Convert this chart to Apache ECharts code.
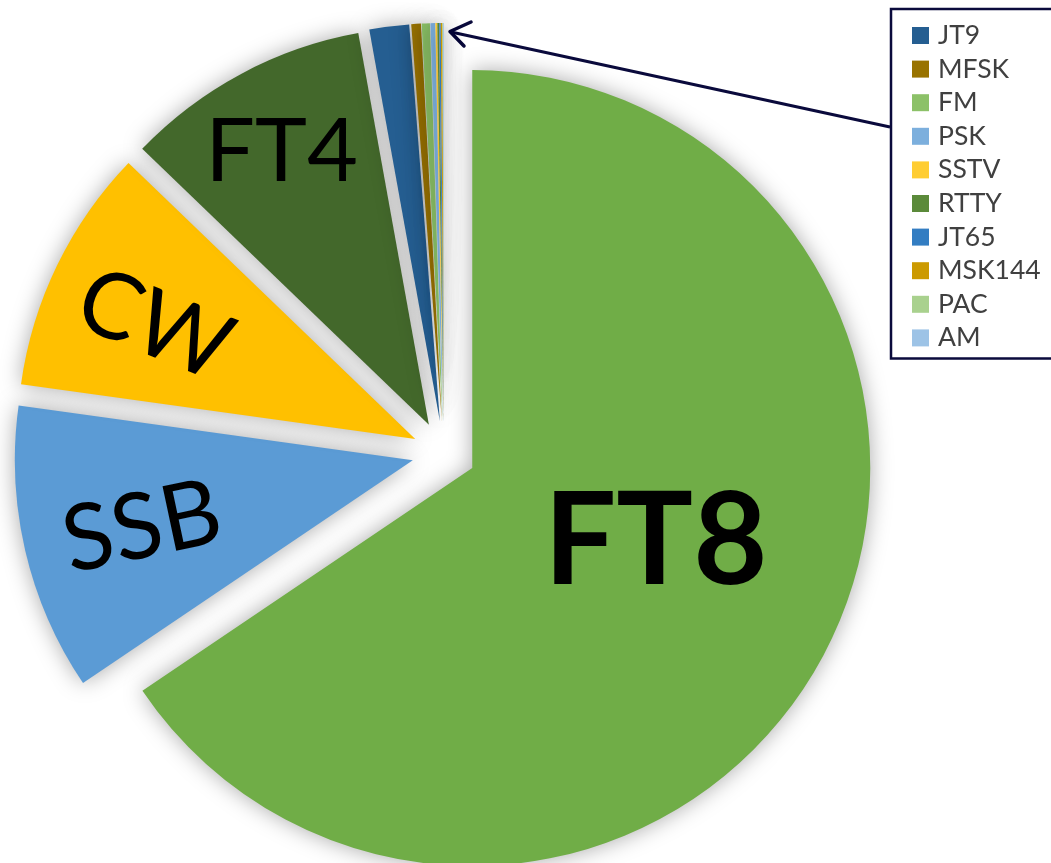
<!DOCTYPE html>
<html>
<head>
<meta charset="utf-8">
<script src="https://cdn.jsdelivr.net/npm/echarts@6/dist/echarts.min.js"></script>
<style>
html,body{margin:0;padding:0;background:#fff;}
#chart{width:1051px;height:863px;}
</style>
</head>
<body>
<div id="chart"></div>
<script>
// Share of contacts by mode (percent)
const modes = ['FT8','SSB','CW','FT4','JT9','MFSK','FM','PSK','SSTV','RTTY','JT65','MSK144','PAC','AM'];
const shares = [65.54, 11.65, 10.0, 9.96, 1.61, 0.39, 0.33, 0.19, 0.07, 0.07, 0.06, 0.06, 0.03, 0.03];
const colors = ['#70AD47','#5B9BD5','#FFC000','#43682B','#255E91','#997300','#8CC168','#7CAFDD','#FFCD33','#5B8A3A','#337DC2','#CC9A00','#A9D18E','#9DC3E6'];
const legendNames = ['JT9','MFSK','FM','PSK','SSTV','RTTY','JT65','MSK144','PAC','AM'];

// label styling for the large slices
const bigLabels = {
  FT8: {fontSize: 128, fontWeight: 'bold', rotate: 0, dx: 5, dy: -20},
  SSB: {fontSize: 92, fontWeight: 'normal', rotate: 12, dx: -77, dy: 6},
  CW:  {fontSize: 92, fontWeight: 'normal', rotate: -22, dx: -83, dy: 6},
  FT4: {fontSize: 88, fontWeight: 'normal', rotate: 0, dx: -52, dy: -94}
};

const chart = echarts.init(document.getElementById('chart'), null, {renderer: 'canvas'});

const data = modes.map((m, i) => {
  const bl = bigLabels[m];
  return {
    name: m,
    value: shares[i],
    selected: true,
    itemStyle: {color: colors[i]},
    label: bl ? {
      show: true, position: 'inside', formatter: '{b}',
      fontSize: bl.fontSize, fontWeight: bl.fontWeight, rotate: bl.rotate,
      color: '#000', fontFamily: 'Lato'
    } : {show: false}
  };
});

chart.setOption({
  animation: false,
  backgroundColor: '#ffffff',
  legend: {
    data: legendNames,
    orient: 'vertical',
    left: 891,
    top: 9,
    padding: [13, 60, 7, 21],
    itemWidth: 17,
    itemHeight: 17,
    itemGap: 6.6,
    icon: 'rect',
    borderColor: '#0a0a3c',
    borderWidth: 2.5,
    selectedMode: false,
    itemStyle: {shadowBlur: 0, borderWidth: 0},
    textStyle: {fontFamily: 'Lato', fontSize: 26.5, color: '#404040', lineHeight: 26, padding: [0, 0, 0, 4]}
  },
  series: [{
    type: 'pie',
    center: [444, 453],
    radius: 398,
    startAngle: 90,
    clockwise: true,
    selectedMode: 'multiple',
    selectedOffset: 32,
    avoidLabelOverlap: false,
    labelLine: {show: false},
    emphasis: {disabled: true},
    itemStyle: {borderWidth: 0, shadowBlur: 22, shadowColor: 'rgba(0,0,0,0.34)'},
    select: {itemStyle: {borderWidth: 0, shadowBlur: 22, shadowColor: 'rgba(0,0,0,0.34)'}},
    labelLayout: function (params) {
      const bl = bigLabels[modes[params.dataIndex]];
      if (!bl) return {};
      return {dx: bl.dx, dy: bl.dy};
    },
    data: data
  }],
  graphic: [{
    type: 'group',
    silent: true,
    children: [
      {type: 'line', shape: {x1: 890, y1: 127, x2: 451, y2: 32}, style: {stroke: '#0a0a3c', lineWidth: 3}},
      {type: 'polyline', shape: {points: [[471, 22], [450, 31.5], [464, 46]]}, style: {stroke: '#0a0a3c', lineWidth: 3.5, fill: null, lineCap: 'round', lineJoin: 'round'}}
    ]
  }]
});
</script>
</body>
</html>
